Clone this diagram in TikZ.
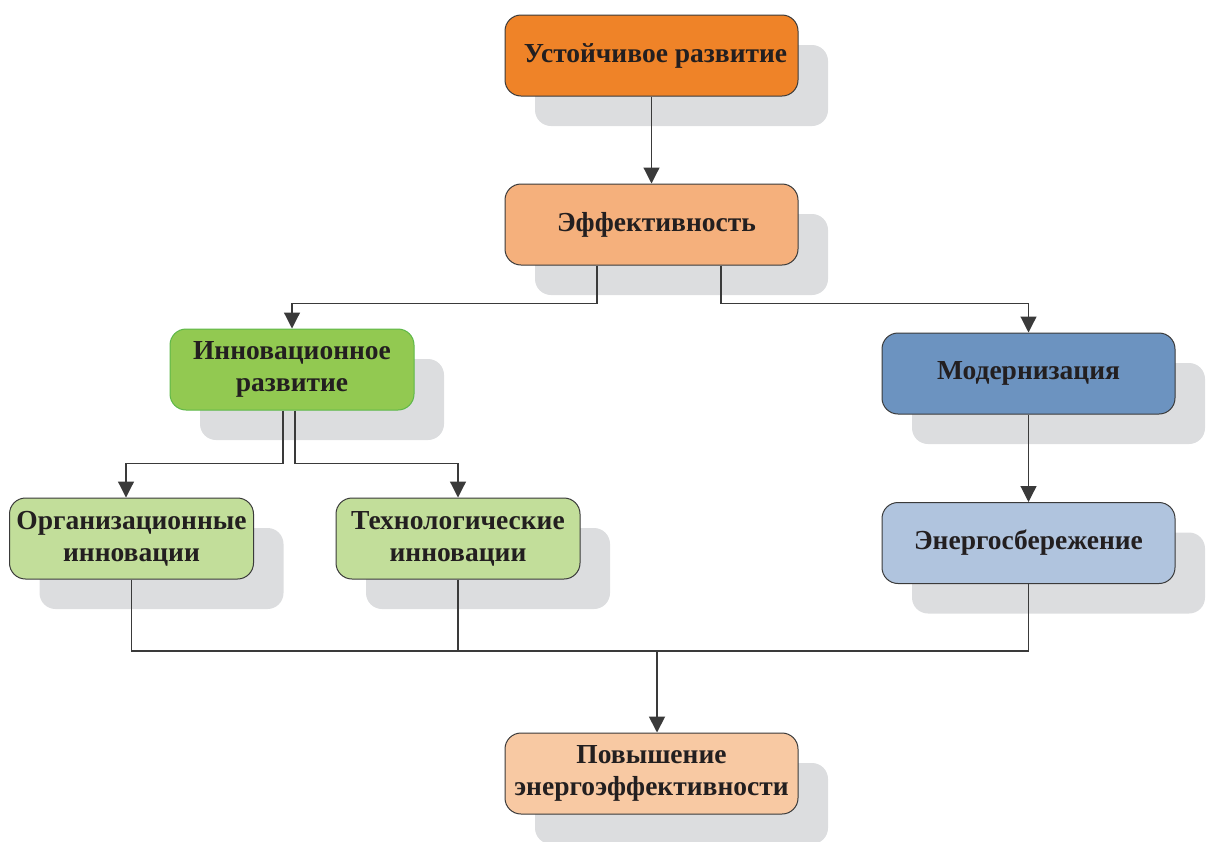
\documentclass[tikz,border=0pt]{standalone}
\usepackage{fontspec}
\setmainfont{Liberation Serif}
\usetikzlibrary{shadows,arrows.meta}
\definecolor{linegray}{HTML}{3A3A3A}
\definecolor{textdark}{HTML}{231F20}
\definecolor{shadegray}{HTML}{DCDDDF}
\definecolor{corange}{HTML}{EF8328}
\definecolor{clorange}{HTML}{F5B07C}
\definecolor{cgreen}{HTML}{92C951}
\definecolor{greenedge}{HTML}{5DB848}
\definecolor{cblue}{HTML}{6C93C0}
\definecolor{clgreen}{HTML}{C2DE9A}
\definecolor{clblue}{HTML}{B0C4DE}
\definecolor{cpeach}{HTML}{F8C9A3}
\begin{document}
\begin{tikzpicture}[x=1pt,y=-1pt,
  box/.style={draw=linegray, line width=1pt, rounded corners=16pt,
    minimum width=293pt, minimum height=81pt, align=center,
    font=\fontsize{27.5}{32}\selectfont\bfseries, text=textdark,
    drop shadow={shadow xshift=30pt, shadow yshift=-30pt, fill=shadegray, opacity=1}},
  narrow/.style={minimum width=244pt},
  wire/.style={draw=linegray, line width=1.2pt},
  link/.style={wire, -{Triangle[width=16pt,length=16pt]}}]
\useasboundingbox (0,0) rectangle (1206,841);

% boxes
\node[box, fill=corange] (sus) at (651.5,55.5) {\hspace*{8pt}Устойчивое развитие};
\node[box, fill=clorange] (eff) at (651.5,224.5) {\hspace*{10pt}Эффективность};
\node[box, narrow, fill=cgreen, draw=greenedge] (inn) at (292,369.5) {Инновационное\\развитие};
\node[box, fill=cblue] (mod) at (1028.5,373.5) {Модернизация};
\node[box, narrow, fill=clgreen] (org) at (131.5,538.5) {Организационные\\инновации};
\node[box, narrow, fill=clgreen] (tech) at (458,538.5) {Технологические\\инновации};
\node[box, fill=clblue] (save) at (1028.5,543) {Энергосбережение};
\node[box, fill=cpeach] (up) at (651.5,773.5) {Повышение\\энергоэффективности};

% connectors
\draw[link] (sus.south) -- (eff.north);
\draw[link] ([xshift=-54.5pt]eff.south) -- ++(0,38) -| (inn.north);
\draw[link] ([xshift=69.5pt]eff.south) -- ++(0,38) -| (mod.north);
\draw[link] ([xshift=-9pt]inn.south) -- ++(0,53) -| ([xshift=-5.5pt]org.north);
\draw[link] ([xshift=3pt]inn.south) -- ++(0,53) -| (tech.north);
\draw[link] (mod.south) -- (save.north);

\coordinate (join) at (657,651);
\draw[wire] (org.south) |- (join);
\draw[wire] (tech.south) |- (join);
\draw[wire] (save.south) |- (join);
\draw[link, line width=1.8pt] (join) -- (join |- up.north);
\end{tikzpicture}
\end{document}
